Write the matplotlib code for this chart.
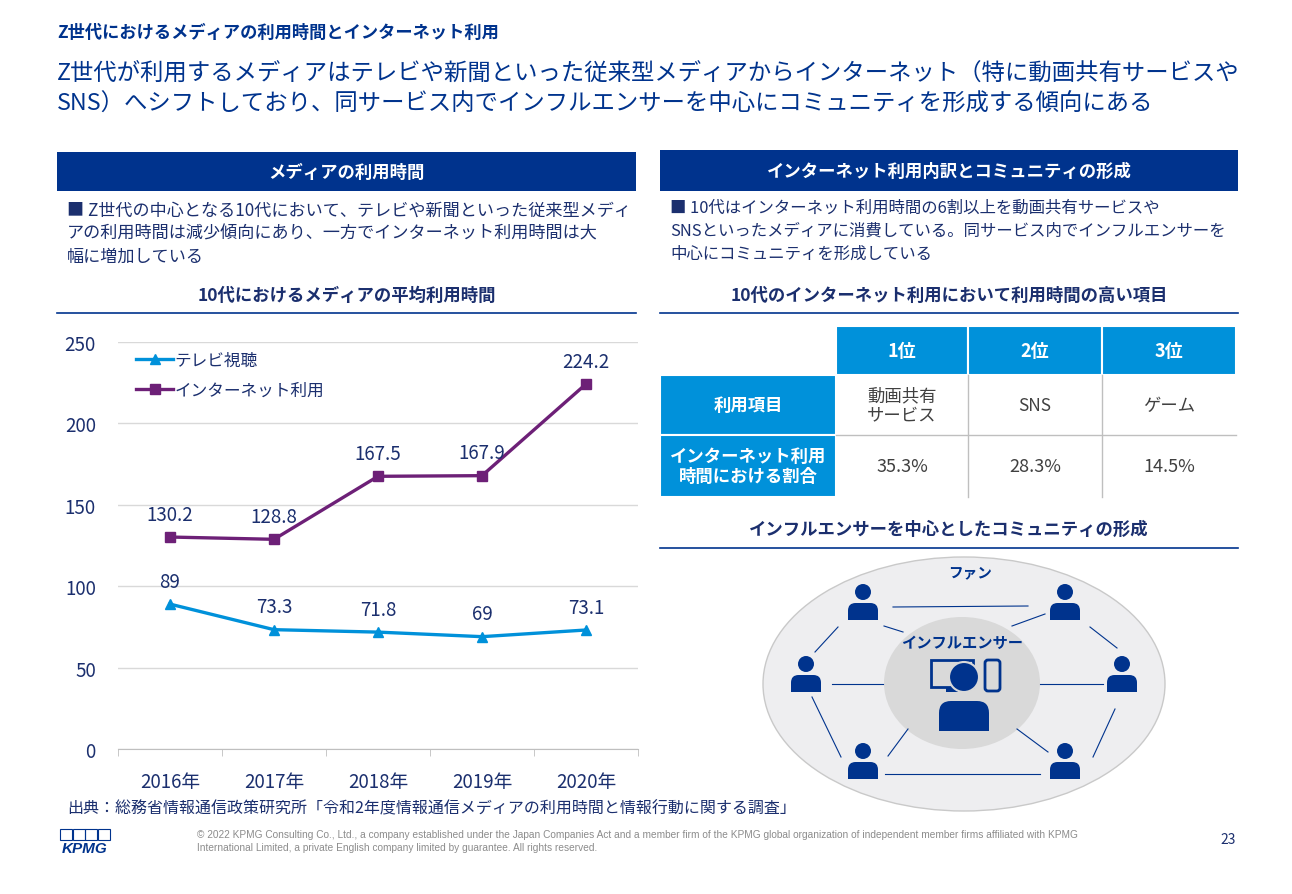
import numpy as np
import matplotlib
matplotlib.use("Agg")
from matplotlib import pyplot as plt
from matplotlib.patches import Rectangle, Ellipse, Circle, FancyBboxPatch

plt.rcParams['font.family'] = ['Noto Sans CJK JP', 'DejaVu Sans']

NAVY = '#00338D'
BLUE = '#0091DA'
PURPLE = '#6D2077'
TXT = '#1B2F6E'
GRAY_TXT = '#404040'

# chart data
years = ['2016年', '2017年', '2018年', '2019年', '2020年']
tv = [89, 73.3, 71.8, 69, 73.1]
internet = [130.2, 128.8, 167.5, 167.9, 224.2]
yticks = [0, 50, 100, 150, 200, 250]

# table data
ranks = ['1位', '2位', '3位']
items = ['動画共有\nサービス', 'SNS', 'ゲーム']
shares = ['35.3%', '28.3%', '14.5%']
row_heads = ['利用項目', 'インターネット利用\n時間における割合']

W, H = 1292, 895
fig = plt.figure(figsize=(W / 100, H / 100), dpi=100)
fig.patch.set_facecolor('white')

# full page overlay in pixel coordinates
bg = fig.add_axes([0, 0, 1, 1])
bg.set_xlim(0, W)
bg.set_ylim(H, 0)
bg.axis('off')

# titles
bg.text(57, 33, 'Z世代におけるメディアの利用時間とインターネット利用', color=NAVY,
        fontsize=12.4, fontweight='bold', va='center')
bg.text(57, 73, 'Z世代が利用するメディアはテレビや新聞といった従来型メディアからインターネット（特に動画共有サービスや',
        color=NAVY, fontsize=16.8, va='center')
bg.text(57, 104, 'SNS）へシフトしており、同サービス内でインフルエンサーを中心にコミュニティを形成する傾向にある',
        color=NAVY, fontsize=16.8, va='center')

# section headers
for x0, x1, y0, y1, label in [(57, 636, 153, 192, 'メディアの利用時間'),
                              (660, 1238, 151, 192, 'インターネット利用内訳とコミュニティの形成')]:
    bg.add_patch(Rectangle((x0, y0), x1 - x0, y1 - y0, color=NAVY, lw=0))
    bg.text((x0 + x1) / 2, (y0 + y1) / 2, label, color='white', fontsize=12.5,
            fontweight='bold', ha='center', va='center')

left_bullet = ['■ Z世代の中心となる10代において、テレビや新聞といった従来型メディ',
               'アの利用時間は減少傾向にあり、一方でインターネット利用時間は大',
               '幅に増加している']
for i, line in enumerate(left_bullet):
    bg.text(67, 211 + 23 * i, line, color=TXT, fontsize=12.3, va='center')

right_bullet = ['■ 10代はインターネット利用時間の6割以上を動画共有サービスや',
                'SNSといったメディアに消費している。同サービス内でインフルエンサーを',
                '中心にコミュニティを形成している']
for i, line in enumerate(right_bullet):
    bg.text(670, 208 + 23 * i, line, color=TXT, fontsize=11.8, va='center')

# sub headings with rule
for cx, cy, ly, x0, x1, label in [(347, 296, 314, 57, 636, '10代におけるメディアの平均利用時間'),
                                  (949, 296, 314, 660, 1238, '10代のインターネット利用において利用時間の高い項目'),
                                  (949, 530, 549, 660, 1238, 'インフルエンサーを中心としたコミュニティの形成')]:
    bg.text(cx, cy, label, color=TXT, fontsize=12.5, fontweight='bold', ha='center', va='center')
    bg.plot([x0, x1], [ly, ly], color=NAVY, lw=1.2)

# table
cols = [836, 968, 1102, 1236]
rows = [327, 376, 436, 498]
for j, r in enumerate(ranks):
    bg.add_patch(Rectangle((cols[j], rows[0]), cols[j + 1] - cols[j], rows[1] - rows[0],
                           facecolor=BLUE, edgecolor='white', lw=1.5))
    bg.text((cols[j] + cols[j + 1]) / 2, (rows[0] + rows[1]) / 2, r, color='white',
            fontsize=13, fontweight='bold', ha='center', va='center')
for i, h in enumerate(row_heads):
    bg.add_patch(Rectangle((660, rows[i + 1]), cols[0] - 660, rows[i + 2] - rows[i + 1],
                           facecolor=BLUE, edgecolor='white', lw=1.5))
    bg.text((660 + cols[0]) / 2, (rows[i + 1] + rows[i + 2]) / 2, h, color='white',
            fontsize=12.5, fontweight='bold', ha='center', va='center', linespacing=1.2)
for j in range(3):
    cx = (cols[j] + cols[j + 1]) / 2
    bg.text(cx, (rows[1] + rows[2]) / 2, items[j], color=GRAY_TXT, fontsize=12.5,
            ha='center', va='center', linespacing=1.15)
    bg.text(cx, (rows[2] + rows[3]) / 2, shares[j], color=GRAY_TXT, fontsize=13,
            ha='center', va='center')
bg.plot([cols[0], cols[-1]], [rows[2], rows[2]], color='#BFBFBF', lw=1)
for x in cols[1:-1]:
    bg.plot([x, x], [rows[1], rows[3]], color='#BFBFBF', lw=1)

# community diagram
bg.add_patch(Ellipse((964, 685), 402, 254, facecolor='#EEEEF0', edgecolor='#C9C9C9', lw=1))
bg.add_patch(Ellipse((962, 684), 156, 132, facecolor='#D9D9D9', edgecolor='none'))

links = [((893, 608), (1028, 607)), ((884, 627), (903, 633)), ((1012, 627), (1045, 615)),
         ((815, 653), (838, 628)), ((1090, 628), (1117, 649)), ((832, 685), (883, 685)),
         ((1040, 685), (1103, 685)), ((812, 698), (841, 758)), ((1115, 710), (1093, 758)),
         ((888, 757), (908, 730)), ((1017, 730), (1048, 753)), ((885, 775), (1040, 775))]
for (xa, ya), (xb, yb) in links:
    bg.plot([xa, xb], [ya, yb], color=NAVY, lw=0.8)


def person(cx, cy, r, bw, bh, gap):
    bg.add_patch(Circle((cx, cy), r, color=NAVY, lw=0))
    bg.add_patch(FancyBboxPatch((cx - bw / 2, cy + r + gap), bw, bh,
                                boxstyle='round,pad=0,rounding_size=%g' % (bh * 0.45),
                                color=NAVY, lw=0))
    bg.add_patch(Rectangle((cx - bw / 2, cy + r + gap + bh * 0.5), bw, bh * 0.5, color=NAVY, lw=0))


for cx, cy in [(863, 593), (1065, 593), (806, 665), (1122, 665), (863, 752), (1065, 752)]:
    person(cx, cy, 8, 30, 17, 3)

bg.text(970, 572, 'ファン', color=NAVY, fontsize=10.5, fontweight='bold', ha='center', va='center')
bg.text(962, 643, 'インフルエンサー', color=NAVY, fontsize=11, fontweight='bold', ha='center', va='center')
# monitor + phone
bg.add_patch(Rectangle((931, 661), 42, 27, facecolor='none', edgecolor=NAVY, lw=2))
bg.add_patch(Rectangle((946, 688), 12, 5, color=NAVY, lw=0))
bg.add_patch(FancyBboxPatch((985, 661), 15, 31, boxstyle='round,pad=0,rounding_size=3',
                            facecolor='#D9D9D9', edgecolor=NAVY, lw=2))
bg.add_patch(Circle((964, 678), 15, facecolor=NAVY, edgecolor='#D9D9D9', lw=1.5))
bg.add_patch(FancyBboxPatch((939, 702), 50, 30, boxstyle='round,pad=0,rounding_size=12',
                            color=NAVY, lw=0))
bg.add_patch(Rectangle((939, 718), 50, 14, color=NAVY, lw=0))

# footer
bg.text(67, 809, '出典：総務省情報通信政策研究所「令和2年度情報通信メディアの利用時間と情報行動に関する調査」',
        color=TXT, fontsize=11.5, va='center')
for k in range(4):
    bg.add_patch(Rectangle((60 + k * 12.5, 830), 12, 11, facecolor='none', edgecolor=NAVY, lw=0.8))
bg.text(85, 849, 'KPMG', color=NAVY, fontsize=11, fontweight='bold', fontstyle='italic',
        ha='center', va='center', family=['Liberation Sans', 'DejaVu Sans'])
small_font = ['Liberation Sans Narrow', 'Liberation Sans', 'DejaVu Sans']
bg.text(197, 835, '© 2022 KPMG Consulting Co., Ltd., a company established under the Japan Companies Act and a member firm '
        'of the KPMG global organization of independent member firms affiliated with KPMG',
        color='#8C8C8C', fontsize=7.3, va='center', family=small_font)
bg.text(197, 848, 'International Limited, a private English company limited by guarantee. All rights reserved.',
        color='#8C8C8C', fontsize=7.3, va='center', family=small_font)
bg.text(1228, 840, '23', color=TXT, fontsize=10, ha='center', va='center')

# line chart
x0, x1, ytop, ybot = 118, 638, 343, 750
ax = fig.add_axes([x0 / W, (H - ybot) / H, (x1 - x0) / W, (ybot - ytop) / H])
ax.patch.set_alpha(0)
xs = np.arange(len(years))
ax.plot(xs, tv, color=BLUE, lw=2.4, marker='^', ms=7, label='テレビ視聴', zorder=3)
ax.plot(xs, internet, color=PURPLE, lw=2.4, marker='s', ms=7, label='インターネット利用', zorder=3)
for series in (tv, internet):
    for i, v in enumerate(series):
        ax.annotate(f'{v:g}', (i, v), xytext=(0, 16.5), textcoords='offset points',
                    ha='center', va='center', fontsize=13.5, color=TXT)
ax.set_xlim(-0.5, len(years) - 0.5)
ax.set_ylim(0, 250)
ax.set_yticks(yticks)
ax.set_xticks(xs)
ax.set_xticklabels(years)
ax.set_xticks(np.arange(-0.5, len(years)), minor=True)
ax.tick_params(axis='x', which='major', length=0, pad=16, labelsize=13.5, labelcolor=TXT)
ax.tick_params(axis='x', which='minor', length=5, color='#BFBFBF', direction='out')
ax.tick_params(axis='y', length=0, pad=16, labelsize=13.5, labelcolor=TXT)
ax.grid(axis='y', color='#D9D9D9', lw=1)
ax.set_axisbelow(True)
for s in ['top', 'right', 'left']:
    ax.spines[s].set_visible(False)
ax.spines['bottom'].set_color('#BFBFBF')
ax.legend(loc='upper left', bbox_to_anchor=(0.035, 0.975), frameon=False, fontsize=12,
          handlelength=2.2, handletextpad=0.1, labelspacing=0.75, borderpad=0, borderaxespad=0,
          labelcolor=TXT)

fig.savefig('out.png', dpi=100)
